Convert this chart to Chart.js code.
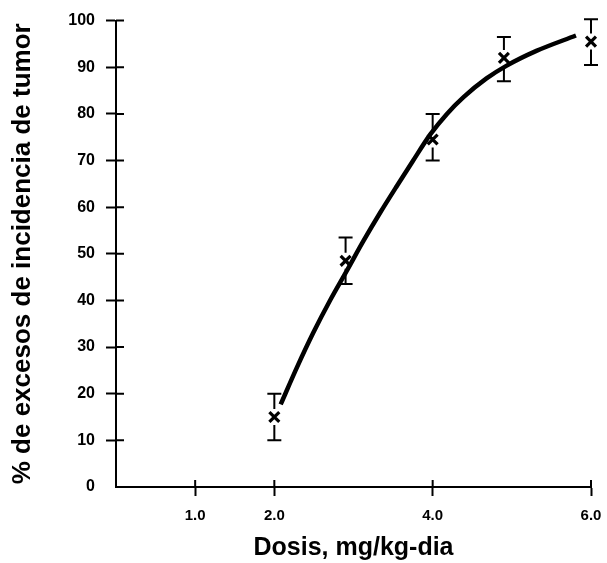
<!DOCTYPE html>
<html lang="es">
<head>
<meta charset="UTF-8">
<title>Dosis - incidencia de tumor</title>
<script src="https://cdn.jsdelivr.net/npm/chart.js@4.4.0/dist/chart.umd.min.js"></script>
<style>
    body {
        margin: 0;
        background: #fff;
    }
    #wrap {
        width: 607px;
        height: 563px;
    }
</style>
</head>
<body>
<div id="wrap"><canvas id="doseChart" width="607" height="563"></canvas></div>
<script>
// measured points (dose, % excess incidence) with their error limits
const doses = [2.0, 2.9, 4.0, 4.9, 6.0];
const incidence = [15, 48.5, 74.5, 92, 95.5];
const errLow = [10, 43.5, 70, 87, 90.5];
const errHigh = [20, 53.5, 80, 96.5, 100.3];

// fitted dose-response curve
const curveDose = [2.08, 2.29, 2.49, 2.71, 2.92, 3.12, 3.34, 3.55, 3.75, 3.97, 4.18, 4.39, 4.68, 4.93, 5.31, 5.81];
const curvePct = [17.7, 25.8, 33.0, 40.2, 46.5, 52.6, 58.9, 64.6, 69.9, 75.6, 80.0, 83.6, 87.6, 90.3, 93.5, 96.8];

// axis ticks
const xTicks = [1.0, 2.0, 4.0, 6.0];
const yTicks = [0, 10, 20, 30, 40, 50, 60, 70, 80, 90, 100];

const FONT = "'Liberation Sans', Arial, sans-serif";

// whiskers with caps, leaving a gap around the x marker
const errorBars = {
    id: 'errorBars',
    afterDatasetsDraw(chart) {
        const { ctx, scales: { x, y } } = chart;
        ctx.save();
        ctx.strokeStyle = '#000';
        ctx.lineWidth = 2;
        ctx.beginPath();
        doses.forEach((d, i) => {
            const px = x.getPixelForValue(d);
            const top = y.getPixelForValue(errHigh[i]);
            const bot = y.getPixelForValue(errLow[i]);
            const mid = y.getPixelForValue(incidence[i]);
            ctx.moveTo(px, top); ctx.lineTo(px, mid - 8);
            ctx.moveTo(px, mid + 8); ctx.lineTo(px, bot);
            ctx.moveTo(px - 7, top); ctx.lineTo(px + 7, top);
            ctx.moveTo(px - 7, bot); ctx.lineTo(px + 7, bot);
        });
        ctx.stroke();
        ctx.restore();
    }
};

// tick marks cross the axis: draw the inner half here
const innerTicks = {
    id: 'innerTicks',
    afterDraw(chart) {
        const { ctx, chartArea, scales: { x, y } } = chart;
        ctx.save();
        ctx.strokeStyle = '#000';
        ctx.lineWidth = 2;
        ctx.beginPath();
        y.ticks.forEach(t => {
            if (t.value === 0) return;
            const py = y.getPixelForValue(t.value);
            ctx.moveTo(chartArea.left, py);
            ctx.lineTo(chartArea.left + 8, py);
        });
        x.ticks.forEach(t => {
            const px = x.getPixelForValue(t.value);
            ctx.moveTo(px, chartArea.bottom);
            ctx.lineTo(px, chartArea.bottom - 7);
        });
        ctx.stroke();
        ctx.restore();
    }
};

new Chart(document.getElementById('doseChart'), {
    type: 'scatter',
    data: {
        datasets: [
            {
                type: 'line',
                data: curveDose.map((d, i) => ({ x: d, y: curvePct[i] })),
                borderColor: '#000',
                borderWidth: 4.5,
                pointRadius: 0,
                cubicInterpolationMode: 'monotone',
                fill: false
            },
            {
                data: doses.map((d, i) => ({ x: d, y: incidence[i] })),
                pointStyle: 'crossRot',
                pointRadius: 7,
                borderColor: '#000',
                borderWidth: 3.2,
                clip: false
            }
        ]
    },
    options: {
        responsive: false,
        animation: false,
        layout: { padding: { top: 12, right: 16, left: 0, bottom: 0 } },
        plugins: {
            legend: { display: false },
            tooltip: { enabled: false }
        },
        scales: {
            x: {
                type: 'linear',
                min: 0,
                max: 6,
                afterBuildTicks: s => { s.ticks = xTicks.map(v => ({ value: v })); },
                afterFit: s => { s.height = 76; s.paddingRight = 12; },
                border: { color: '#000', width: 2 },
                grid: { drawOnChartArea: false, tickLength: 9, tickWidth: 2, tickColor: '#000' },
                ticks: {
                    padding: 11,
                    color: '#000',
                    font: { family: FONT, size: 15, weight: 'bold' },
                    callback: v => v.toFixed(1)
                },
                title: {
                    display: true,
                    text: 'Dosis, mg/kg-dia',
                    color: '#000',
                    padding: { top: 0, bottom: 0 },
                    font: { family: FONT, size: 25, weight: 'bold' }
                }
            },
            y: {
                min: 0,
                max: 100,
                afterBuildTicks: s => { s.ticks = yTicks.map(v => ({ value: v })); },
                afterFit: s => { s.width = 116; },
                border: { color: '#000', width: 2 },
                grid: {
                    drawOnChartArea: false,
                    tickLength: 10,
                    tickWidth: 2,
                    tickColor: c => (c.tick && c.tick.value === 0 ? 'rgba(0,0,0,0)' : '#000')
                },
                ticks: {
                    padding: 11,
                    color: '#000',
                    font: { family: FONT, size: 16, weight: 'bold' }
                },
                title: {
                    display: true,
                    text: '% de excesos de incidencia de tumor',
                    color: '#000',
                    padding: { top: 7, bottom: 0 },
                    font: { family: FONT, size: 26, weight: 'bold' }
                }
            }
        }
    },
    plugins: [errorBars, innerTicks]
});
</script>
</body>
</html>
